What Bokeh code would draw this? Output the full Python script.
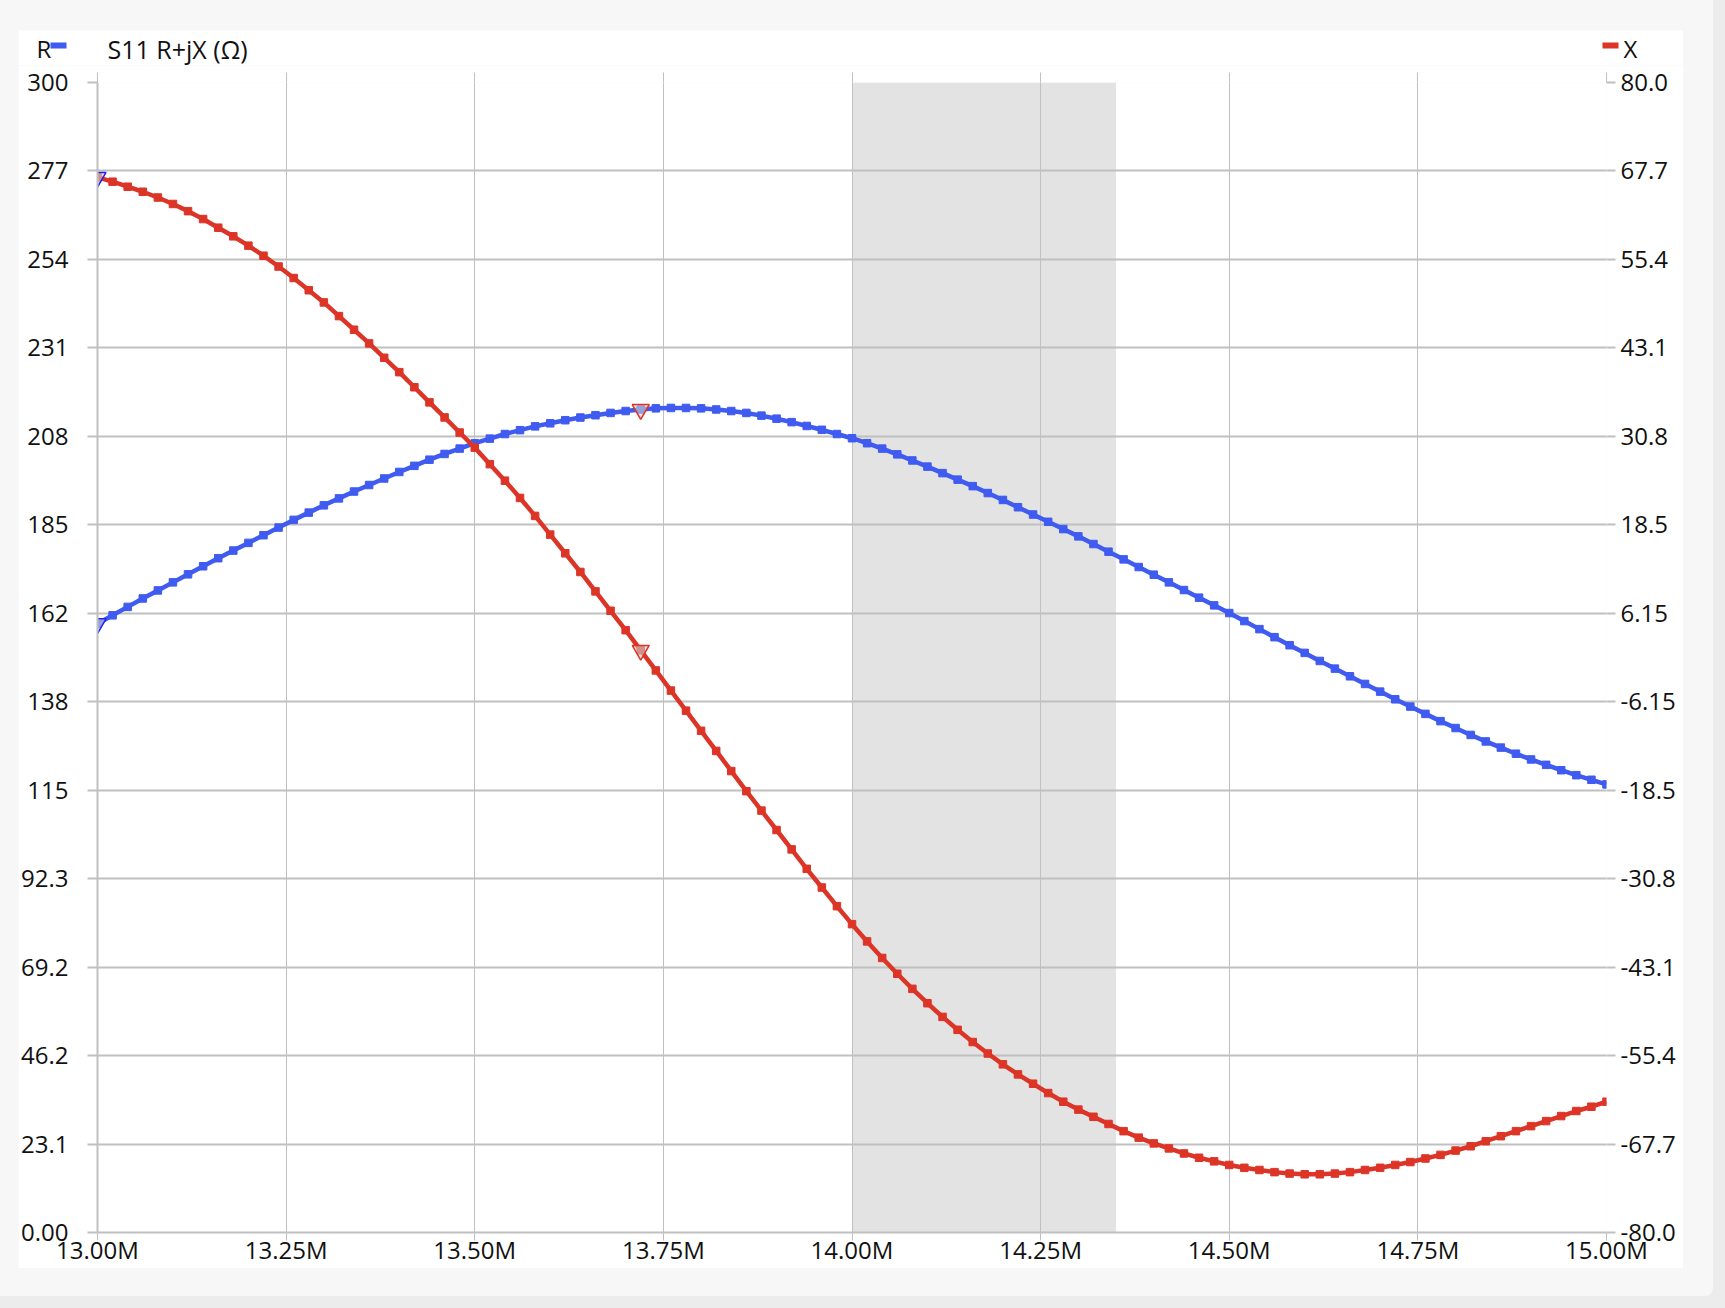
from bokeh.plotting import figure
from bokeh.layouts import column
from bokeh.models import Range1d, LinearAxis, FixedTicker, BoxAnnotation
from bokeh.embed import file_html
from bokeh.resources import INLINE
from bokeh.core.properties import value

# ---------------- data ----------------
freq_mhz = [13.00, 13.02, 13.04, 13.06, 13.08, 13.10, 13.12, 13.14, 13.16, 13.18,
            13.20, 13.22, 13.24, 13.26, 13.28, 13.30, 13.32, 13.34, 13.36, 13.38,
            13.40, 13.42, 13.44, 13.46, 13.48, 13.50, 13.52, 13.54, 13.56, 13.58,
            13.60, 13.62, 13.64, 13.66, 13.68, 13.70, 13.72, 13.74, 13.76, 13.78,
            13.80, 13.82, 13.84, 13.86, 13.88, 13.90, 13.92, 13.94, 13.96, 13.98,
            14.00, 14.02, 14.04, 14.06, 14.08, 14.10, 14.12, 14.14, 14.16, 14.18,
            14.20, 14.22, 14.24, 14.26, 14.28, 14.30, 14.32, 14.34, 14.36, 14.38,
            14.40, 14.42, 14.44, 14.46, 14.48, 14.50, 14.52, 14.54, 14.56, 14.58,
            14.60, 14.62, 14.64, 14.66, 14.68, 14.70, 14.72, 14.74, 14.76, 14.78,
            14.80, 14.82, 14.84, 14.86, 14.88, 14.90, 14.92, 14.94, 14.96, 14.98,
            15.00]

r_ohm = [158.8, 161.0, 163.2, 165.4, 167.5, 169.6, 171.7, 173.8, 175.9, 177.9,
         179.9, 181.9, 183.9, 185.9, 187.8, 189.7, 191.5, 193.3, 195.0, 196.7,
         198.4, 200.0, 201.6, 203.1, 204.5, 205.9, 207.1, 208.3, 209.3, 210.3,
         211.1, 211.9, 212.6, 213.2, 213.8, 214.3, 214.7, 215.0, 215.1, 215.1,
         215.0, 214.7, 214.3, 213.8, 213.1, 212.3, 211.4, 210.4, 209.4, 208.3,
         207.2, 205.9, 204.5, 203.0, 201.4, 199.8, 198.1, 196.4, 194.7, 192.9,
         191.1, 189.2, 187.3, 185.4, 183.5, 181.6, 179.6, 177.6, 175.6, 173.6,
         171.6, 169.6, 167.6, 165.6, 163.6, 161.6, 159.5, 157.4, 155.3, 153.2,
         151.2, 149.1, 147.1, 145.1, 143.1, 141.1, 139.1, 137.2, 135.3, 133.4,
         131.6, 129.8, 128.1, 126.5, 124.9, 123.4, 122.0, 120.6, 119.3, 118.1,
         116.9]

x_ohm = [66.8, 66.2, 65.5, 64.8, 64.0, 63.1, 62.1, 61.0, 59.8, 58.6,
         57.3, 55.9, 54.4, 52.8, 51.1, 49.4, 47.5, 45.6, 43.7, 41.7,
         39.7, 37.6, 35.5, 33.4, 31.3, 29.2, 26.9, 24.6, 22.2, 19.7,
         17.1, 14.5, 11.9, 9.2, 6.5, 3.8, 1.0, -1.8, -4.6, -7.4,
         -10.2, -13.0, -15.8, -18.6, -21.3, -24.0, -26.7, -29.4, -32.0, -34.6,
         -37.1, -39.5, -41.8, -44.0, -46.1, -48.1, -50.0, -51.8, -53.5, -55.1,
         -56.6, -58.0, -59.3, -60.6, -61.8, -62.9, -63.9, -64.9, -65.9, -66.8,
         -67.6, -68.3, -69.0, -69.6, -70.1, -70.6, -71.0, -71.3, -71.6, -71.8,
         -71.9, -71.9, -71.8, -71.6, -71.3, -71.0, -70.6, -70.2, -69.7, -69.2,
         -68.6, -68.0, -67.3, -66.6, -65.9, -65.2, -64.5, -63.8, -63.1, -62.5,
         -61.8]

marker1_idx = 0    # 13.00 MHz
marker2_idx = 36   # 13.72 MHz

band_start = 14.00
band_end = 14.35

x_ticks = [13.00, 13.25, 13.50, 13.75, 14.00, 14.25, 14.50, 14.75, 15.00]
x_tick_labels = ["13.00M", "13.25M", "13.50M", "13.75M", "14.00M",
                 "14.25M", "14.50M", "14.75M", "15.00M"]
r_ticks = [i * 300.0 / 13 for i in range(14)]
r_tick_labels = ["0.00", "23.1", "46.2", "69.2", "92.3", "115", "138",
                 "162", "185", "208", "231", "254", "277", "300"]
xr_ticks = [-80.0 + i * 160.0 / 13 for i in range(14)]
xr_tick_labels = ["-80.0", "-67.7", "-55.4", "-43.1", "-30.8", "-18.5", "-6.15",
                  "6.15", "18.5", "30.8", "43.1", "55.4", "67.7", "80.0"]

title_text = "S11 R+jX (\u03a9)"
left_name = "R"
right_name = "X"

# ---------------- style / layout ----------------
FONT = "Open Sans"
FS = "24px"
FS_TITLE = "25px"
BLUE = "#3f5bf0"
RED = "#dc3527"
GRID = "#c0c0c0"
TXT = "#111111"

FRAME_W, FRAME_H = 1509, 1150
B_LEFT, B_RIGHT, B_TOP, B_BOTTOM = 79, 77, 17, 35
HEADER_H = 35
PX = (x_ticks[-1] - x_ticks[0]) / FRAME_W   # MHz per pixel

# ---------- header strip (title + legend) ----------
h = figure(width=B_LEFT + FRAME_W + B_RIGHT, height=HEADER_H,
           x_range=Range1d(x_ticks[0] - B_LEFT * PX, x_ticks[-1] + B_RIGHT * PX),
           y_range=Range1d(0, HEADER_H),
           x_axis_type=None, y_axis_type=None,
           min_border=0, min_border_left=0, min_border_right=0,
           min_border_top=0, min_border_bottom=0, frame_align=False,
           output_backend="svg", toolbar_location=None,
           background_fill_color="white", border_fill_color="white",
           outline_line_color=None)
h.grid.visible = False

txt_y = HEADER_H - 18
sw_y = HEADER_H - 15
h.text(x=[x_ticks[0]], y=[txt_y], text=[title_text], x_offset=10,
       text_font=value(FONT), text_font_size=value(FS_TITLE), text_color=TXT,
       text_baseline="middle", text_align="left")
h.text(x=[x_ticks[0]], y=[txt_y], text=[left_name], x_offset=-61,
       text_font=value(FONT), text_font_size=value(FS), text_color=TXT,
       text_baseline="middle", text_align="left")
h.text(x=[x_ticks[-1]], y=[txt_y], text=[right_name], x_offset=17,
       text_font=value(FONT), text_font_size=value(FS), text_color=TXT,
       text_baseline="middle", text_align="left")
h.rect(x=[x_ticks[0] - 39 * PX], y=[sw_y], width=16, height=6,
       width_units="screen", height_units="screen", fill_color=BLUE, line_color=None)
h.rect(x=[x_ticks[-1] + 4 * PX], y=[sw_y], width=16, height=6,
       width_units="screen", height_units="screen", fill_color=RED, line_color=None)

# ---------- main chart ----------
p = figure(frame_width=FRAME_W, frame_height=FRAME_H,
           x_range=Range1d(x_ticks[0], x_ticks[-1]), y_range=Range1d(0, 300),
           output_backend="svg", toolbar_location=None, frame_align=False,
           min_border_left=B_LEFT, min_border_right=B_RIGHT,
           min_border_top=B_TOP, min_border_bottom=B_BOTTOM,
           background_fill_color="white", border_fill_color="white",
           outline_line_color=None)
p.extra_y_ranges = {"xr": Range1d(-80, 80)}

p.xgrid.grid_line_color = GRID
p.xgrid.grid_line_width = 1
p.ygrid.grid_line_color = GRID
p.ygrid.grid_line_width = 2

def style_axis(ax, tick_out, tick_w, standoff):
    ax.major_tick_out = tick_out
    ax.major_tick_in = 0
    ax.major_tick_line_color = GRID
    ax.major_tick_line_width = tick_w
    ax.minor_tick_line_color = None
    ax.major_label_standoff = standoff
    ax.major_label_text_font = FONT
    ax.major_label_text_font_size = FS
    ax.major_label_text_color = TXT

xa = p.xaxis[0]
xa.ticker = FixedTicker(ticks=x_ticks)
xa.major_label_overrides = dict(zip(x_ticks, x_tick_labels))
style_axis(xa, 8, 1, -8)
xa.axis_line_color = GRID
xa.axis_line_width = 2

ya = p.yaxis[0]
ya.ticker = FixedTicker(ticks=r_ticks)
ya.major_label_overrides = dict(zip(r_ticks, r_tick_labels))
style_axis(ya, 10, 2, 19)
ya.axis_line_color = GRID
ya.axis_line_width = 2

ra = LinearAxis(y_range_name="xr", ticker=FixedTicker(ticks=xr_ticks),
                major_label_overrides=dict(zip(xr_ticks, xr_tick_labels)))
style_axis(ra, 9, 2, 5)
ra.axis_line_color = None
p.add_layout(ra, "right")

ta = LinearAxis(ticker=FixedTicker(ticks=x_ticks),
                major_label_overrides={t: "" for t in x_ticks})
style_axis(ta, 10, 1, 0)
ta.major_label_text_font_size = "0px"
ta.axis_line_color = None
p.add_layout(ta, "above")

band = BoxAnnotation(left=band_start, right=band_end, fill_color="#e3e3e3",
                     fill_alpha=1.0, line_color=None, level="image")
p.add_layout(band)

p.line(freq_mhz, r_ohm, line_color=BLUE, line_width=4.5)
p.scatter(freq_mhz, r_ohm, marker="square", size=7.5, color=BLUE)
p.line(freq_mhz, x_ohm, line_color=RED, line_width=4.5, y_range_name="xr")
p.scatter(freq_mhz, x_ohm, marker="square", size=7.5, color=RED, y_range_name="xr")

for idx, col in ((marker1_idx, "#2020f0"), (marker2_idx, "#e03020")):
    p.scatter([freq_mhz[idx]], [r_ohm[idx]], marker="inverted_triangle", size=17,
              line_color=col, line_width=1.5, fill_color="#cfcfcf", fill_alpha=0.6)
    p.scatter([freq_mhz[idx]], [x_ohm[idx]], marker="inverted_triangle", size=17,
              line_color=col, line_width=1.5, fill_color="#cfcfcf", fill_alpha=0.6,
              y_range_name="xr")

layout = column(h, p, spacing=0)

TPL = ("{% block postamble %}<style>"
       "html{background:#ececec;}"
       "body{margin:0 !important;padding:30px 0 0 18px !important;box-sizing:border-box;"
       "width:1713px;height:1296px !important;background:#f7f7f7;"
       "border-radius:0 0 8px 0;}"
       "</style>{% endblock %}")

open("out.html", "w").write(file_html(layout, INLINE, template=TPL))
